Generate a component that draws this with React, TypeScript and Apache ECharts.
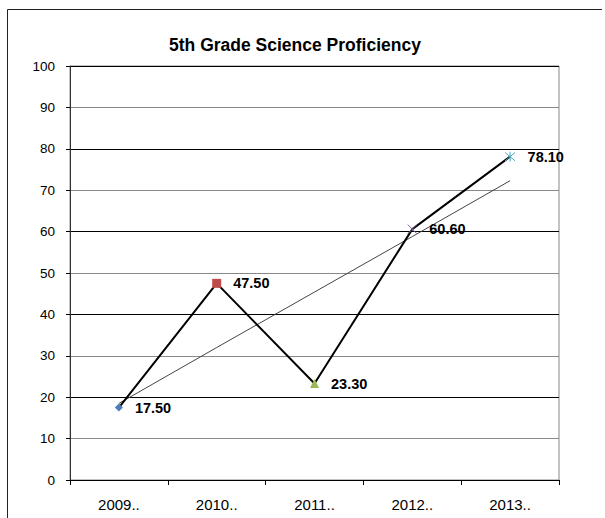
import React, { useEffect, useRef } from "react";
import * as echarts from "echarts";

const categories = ["2009..", "2010..", "2011..", "2012..", "2013.."];
const proficiency = [17.5, 47.5, 23.3, 60.6, 78.1];
const trendValues = [18.5, 32.0, 45.4, 58.8, 72.3];
const yTicks = [0, 10, 20, 30, 40, 50, 60, 70, 80, 90, 100];

const markerSymbols = [
  "diamond",
  "rect",
  "triangle",
  "path://M0 0L10 10M10 0L0 10",
  "path://M0 0L10 10M10 0L0 10M5 -1L5 11",
];
const markerColors = ["#4a7ebb", "#be4b48", "#98b954", "#7d60a0", "#4bacc6"];
const markerSizes = [8, 9, 9, 9, 10];

const FONT = "'Liberation Sans', Arial, sans-serif";

export default function App() {
  const ref = useRef<HTMLDivElement>(null);
  useEffect(() => {
    document.body.style.margin = "0";
    if (!ref.current) return;
    const chart = echarts.init(ref.current, null, { renderer: "svg" });
    const data = proficiency.map((v, i) => {
      const stroke = i >= 3;
      return {
        value: v,
        symbol: markerSymbols[i],
        symbolSize: markerSizes[i],
        itemStyle: stroke
          ? { color: "rgba(0,0,0,0)", borderColor: markerColors[i], borderWidth: 1 }
          : { color: markerColors[i], borderWidth: 0 },
      };
    });
    chart.setOption({
      animation: false,
      backgroundColor: "#fff",
      textStyle: { fontFamily: FONT },
      title: {
        text: "5th Grade Science Proficiency",
        left: 290,
        textAlign: "center",
        top: 31,
        textStyle: { fontFamily: FONT, fontSize: 17.5, fontWeight: "bold", color: "#000" },
      },
      graphic: [
        { type: "line", shape: { x1: 7.5, y1: 9.5, x2: 7.5, y2: 518 }, style: { stroke: "#222", lineWidth: 1 } },
        { type: "line", shape: { x1: 7.5, y1: 9.5, x2: 602, y2: 9.5 }, style: { stroke: "#222", lineWidth: 1 } },
      ],
      grid: {
        left: 70,
        right: 46,
        top: 66,
        bottom: 38,
        show: true,
        borderColor: "#888",
        borderWidth: 1,
      },
      xAxis: {
        type: "category",
        data: categories,
        boundaryGap: true,
        axisLine: { lineStyle: { color: "#000", width: 1 } },
        axisTick: { show: true, length: 5, inside: false, lineStyle: { color: "#000" } },
        axisLabel: { color: "#000", fontSize: 15, margin: 17, fontFamily: FONT },
      },
      yAxis: {
        type: "value",
        min: yTicks[0],
        max: yTicks[yTicks.length - 1],
        interval: 10,
        axisLine: { show: true, lineStyle: { color: "#333", width: 1 } },
        axisTick: { show: true, length: 4, lineStyle: { color: "#000" } },
        axisLabel: { color: "#000", fontSize: 13.5, margin: 15, fontFamily: FONT },
        splitLine: { show: true, lineStyle: { color: ["#000", "#888"], width: 1 } },
      },
      series: [
        {
          type: "line",
          data: trendValues,
          symbol: "none",
          lineStyle: { color: "#444", width: 1 },
          z: 1,
          silent: true,
        },
        {
          type: "line",
          data,
          z: 3,
          lineStyle: { color: "#000", width: 2 },
          label: {
            show: true,
            position: "right",
            distance: 12,
            color: "#000",
            fontWeight: "bold",
            fontSize: 14.5,
            fontFamily: FONT,
            formatter: (p: any) => Number(p.value).toFixed(2),
          },
        },
      ],
    });
    return () => chart.dispose();
  }, []);
  return <div ref={ref} style={{ width: 605, height: 518 }} />;
}
